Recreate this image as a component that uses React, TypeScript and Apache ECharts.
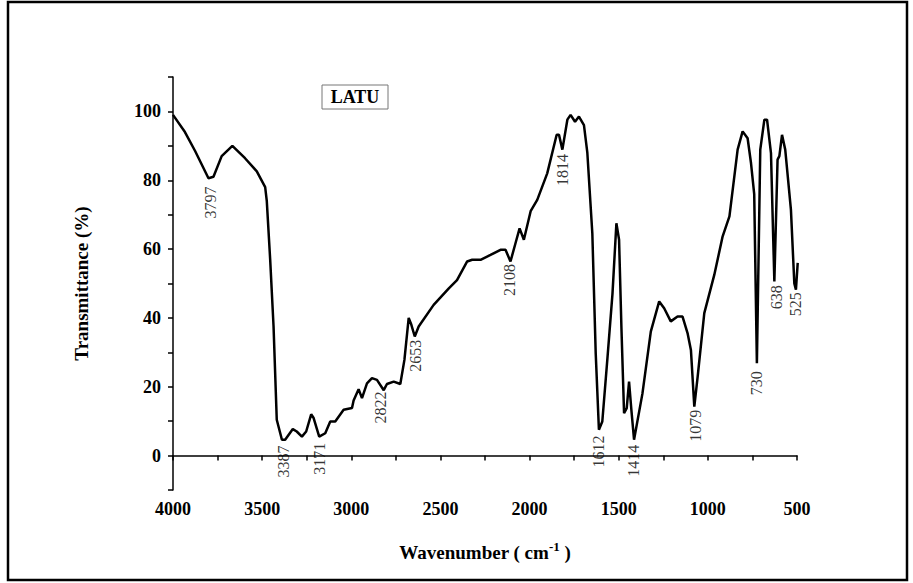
import React, { useEffect, useRef } from 'react';
import * as echarts from 'echarts';

// spectrum: [wavenumber, transmittance %]
const spectrum = [
  [4000, 99], [3933, 94], [3876, 88.5], [3801, 80.6], [3773, 81], [3727, 87], [3667, 90],
  [3596, 86.4], [3530, 82.6], [3483, 78], [3474, 74], [3455, 57], [3436, 37.5], [3418, 10.4],
  [3389, 4.6], [3371, 4.6], [3328, 7.7], [3306, 7], [3277, 5.5], [3253, 7], [3225, 12],
  [3212, 11], [3180, 5.5], [3146, 6.5], [3118, 9.9], [3090, 9.9], [3043, 13.3], [2996, 13.8],
  [2987, 16], [2959, 19.3], [2940, 16.7], [2912, 21], [2884, 22.5], [2856, 22], [2818, 19],
  [2800, 20.8], [2762, 21.5], [2725, 20.8], [2702, 27.8], [2678, 40], [2663, 38], [2644, 34.6],
  [2622, 37.5], [2538, 43.8], [2453, 48.6], [2407, 51], [2350, 56.4], [2322, 56.9], [2275, 56.9],
  [2219, 58.3], [2163, 59.8], [2135, 59.8], [2107, 56.4], [2079, 61.7], [2056, 66], [2032, 62.7],
  [1994, 71], [1957, 74.3], [1901, 82], [1848, 93.2], [1835, 93.2], [1816, 88.9], [1788, 97.6],
  [1770, 99], [1745, 97], [1723, 98.5], [1695, 96], [1676, 88], [1648, 64.6], [1629, 29.7],
  [1611, 7.5], [1592, 9.9], [1564, 27.8], [1535, 47], [1513, 67.5], [1498, 62.7], [1485, 37.5],
  [1470, 12.3], [1455, 13.8], [1442, 21.5], [1429, 13.3], [1414, 4.6], [1367, 18], [1320, 36],
  [1273, 44.8], [1245, 42.8], [1208, 39], [1170, 40.4], [1142, 40.4], [1114, 35.6], [1095, 30.7],
  [1076, 14.2], [1057, 23], [1020, 41.4], [964, 52.5], [917, 63.7], [879, 69.5], [833, 88.9],
  [805, 94.2], [777, 92.2], [758, 85], [740, 76], [725, 26.8], [706, 88.9], [683, 97.6],
  [668, 97.6], [646, 87.9], [627, 50.6], [609, 86], [599, 87], [584, 93.2], [566, 88.9],
  [534, 71.4], [515, 50], [506, 48.2], [496, 56],
];

// peak labels: text, x position (wavenumber), y position of label centre (%)
const peakNames = ['3797', '3387', '3171', '2822', '2653', '2108', '1814', '1612', '1414', '1079', '730', '638', '525'];
const peakX = [3790, 3382, 3180, 2838, 2642, 2110, 1817, 1615, 1418, 1070, 725, 617, 510];
const peakY = [73.5, -1.7, -0.9, 14, 29, 51, 83, 1.2, -1.5, 8.7, 21, 46, 44];

const serif = 'Liberation Serif, DejaVu Serif, serif';

const App = () => {
  const ref = useRef(null);

  useEffect(() => {
    document.body.style.margin = '0';
    if (!ref.current) return;
    const chart = echarts.init(ref.current, null, { renderer: 'svg' });
    chart.setOption({
      animation: false,
      backgroundColor: '#fff',
      textStyle: { fontFamily: serif },
      grid: { left: 173, right: 116, top: 77, bottom: 93 },
      xAxis: {
        type: 'value',
        min: 500,
        max: 4000,
        interval: 250,
        inverse: true,
        name: '{n|Wavenumber ( cm}{s|-1}{n| )}',
        nameLocation: 'middle',
        nameGap: 50,
        nameTextStyle: {
          rich: {
            n: { fontFamily: serif, fontWeight: 'bold', fontSize: 19, color: '#000' },
            s: { fontFamily: serif, fontWeight: 'bold', fontSize: 13, color: '#000', verticalAlign: 'top', padding: [0, 0, 12, 0] },
          },
        },
        axisLine: { lineStyle: { color: '#000', width: 1.5 } },
        axisTick: { length: 5, lineStyle: { color: '#000', width: 1.5 } },
        splitLine: { show: false },
        axisLabel: {
          color: '#000', fontFamily: serif, fontWeight: 'bold', fontSize: 18, margin: 10,
          formatter: (v) => (v % 500 === 0 ? String(v) : ''),
        },
      },
      yAxis: {
        type: 'value',
        min: -10,
        max: 110,
        interval: 10,
        name: 'Transmittance (%)',
        nameLocation: 'middle',
        nameGap: 82,
        nameTextStyle: { fontFamily: serif, fontWeight: 'bold', fontSize: 19, color: '#000' },
        axisLine: { show: true, lineStyle: { color: '#000', width: 1.5 } },
        axisTick: { length: 5, lineStyle: { color: '#000', width: 1.5 } },
        splitLine: { show: false },
        axisLabel: {
          color: '#000', fontFamily: serif, fontWeight: 'bold', fontSize: 18, margin: 12,
          formatter: (v) => (v % 20 === 0 && v >= 0 && v <= 100 ? String(v) : ''),
        },
      },
      series: [
        {
          type: 'line',
          data: spectrum,
          showSymbol: false,
          lineStyle: { color: '#000', width: 2.5 },
          silent: true,
        },
        {
          type: 'scatter',
          symbolSize: 0,
          itemStyle: { color: '#000' },
          data: peakNames.map((n, i) => ({ value: [peakX[i], peakY[i]], name: n })),
          label: {
            show: true,
            position: 'inside',
            rotate: 90,
            formatter: (p) => p.name,
            color: '#000',
            textBorderWidth: 0,
            fontFamily: serif,
            fontSize: 16,
          },
          silent: true,
        },
      ],
      graphic: [
        { type: 'rect', shape: { x: 8, y: 2, width: 899, height: 578 }, style: { fill: 'none', stroke: '#000', lineWidth: 2.5 } },
        { type: 'rect', shape: { x: 322, y: 85, width: 66, height: 24 }, style: { fill: '#fff', stroke: '#777', lineWidth: 1 } },
        {
          type: 'text', x: 355, y: 97,
          style: { text: 'LATU', fontFamily: serif, fontWeight: 'bold', fontSize: 18, fill: '#000', align: 'center', verticalAlign: 'middle' },
        },
      ],
    });
    return () => chart.dispose();
  }, []);

  return <div ref={ref} style={{ width: 913, height: 583 }} />;
};

export default App;
